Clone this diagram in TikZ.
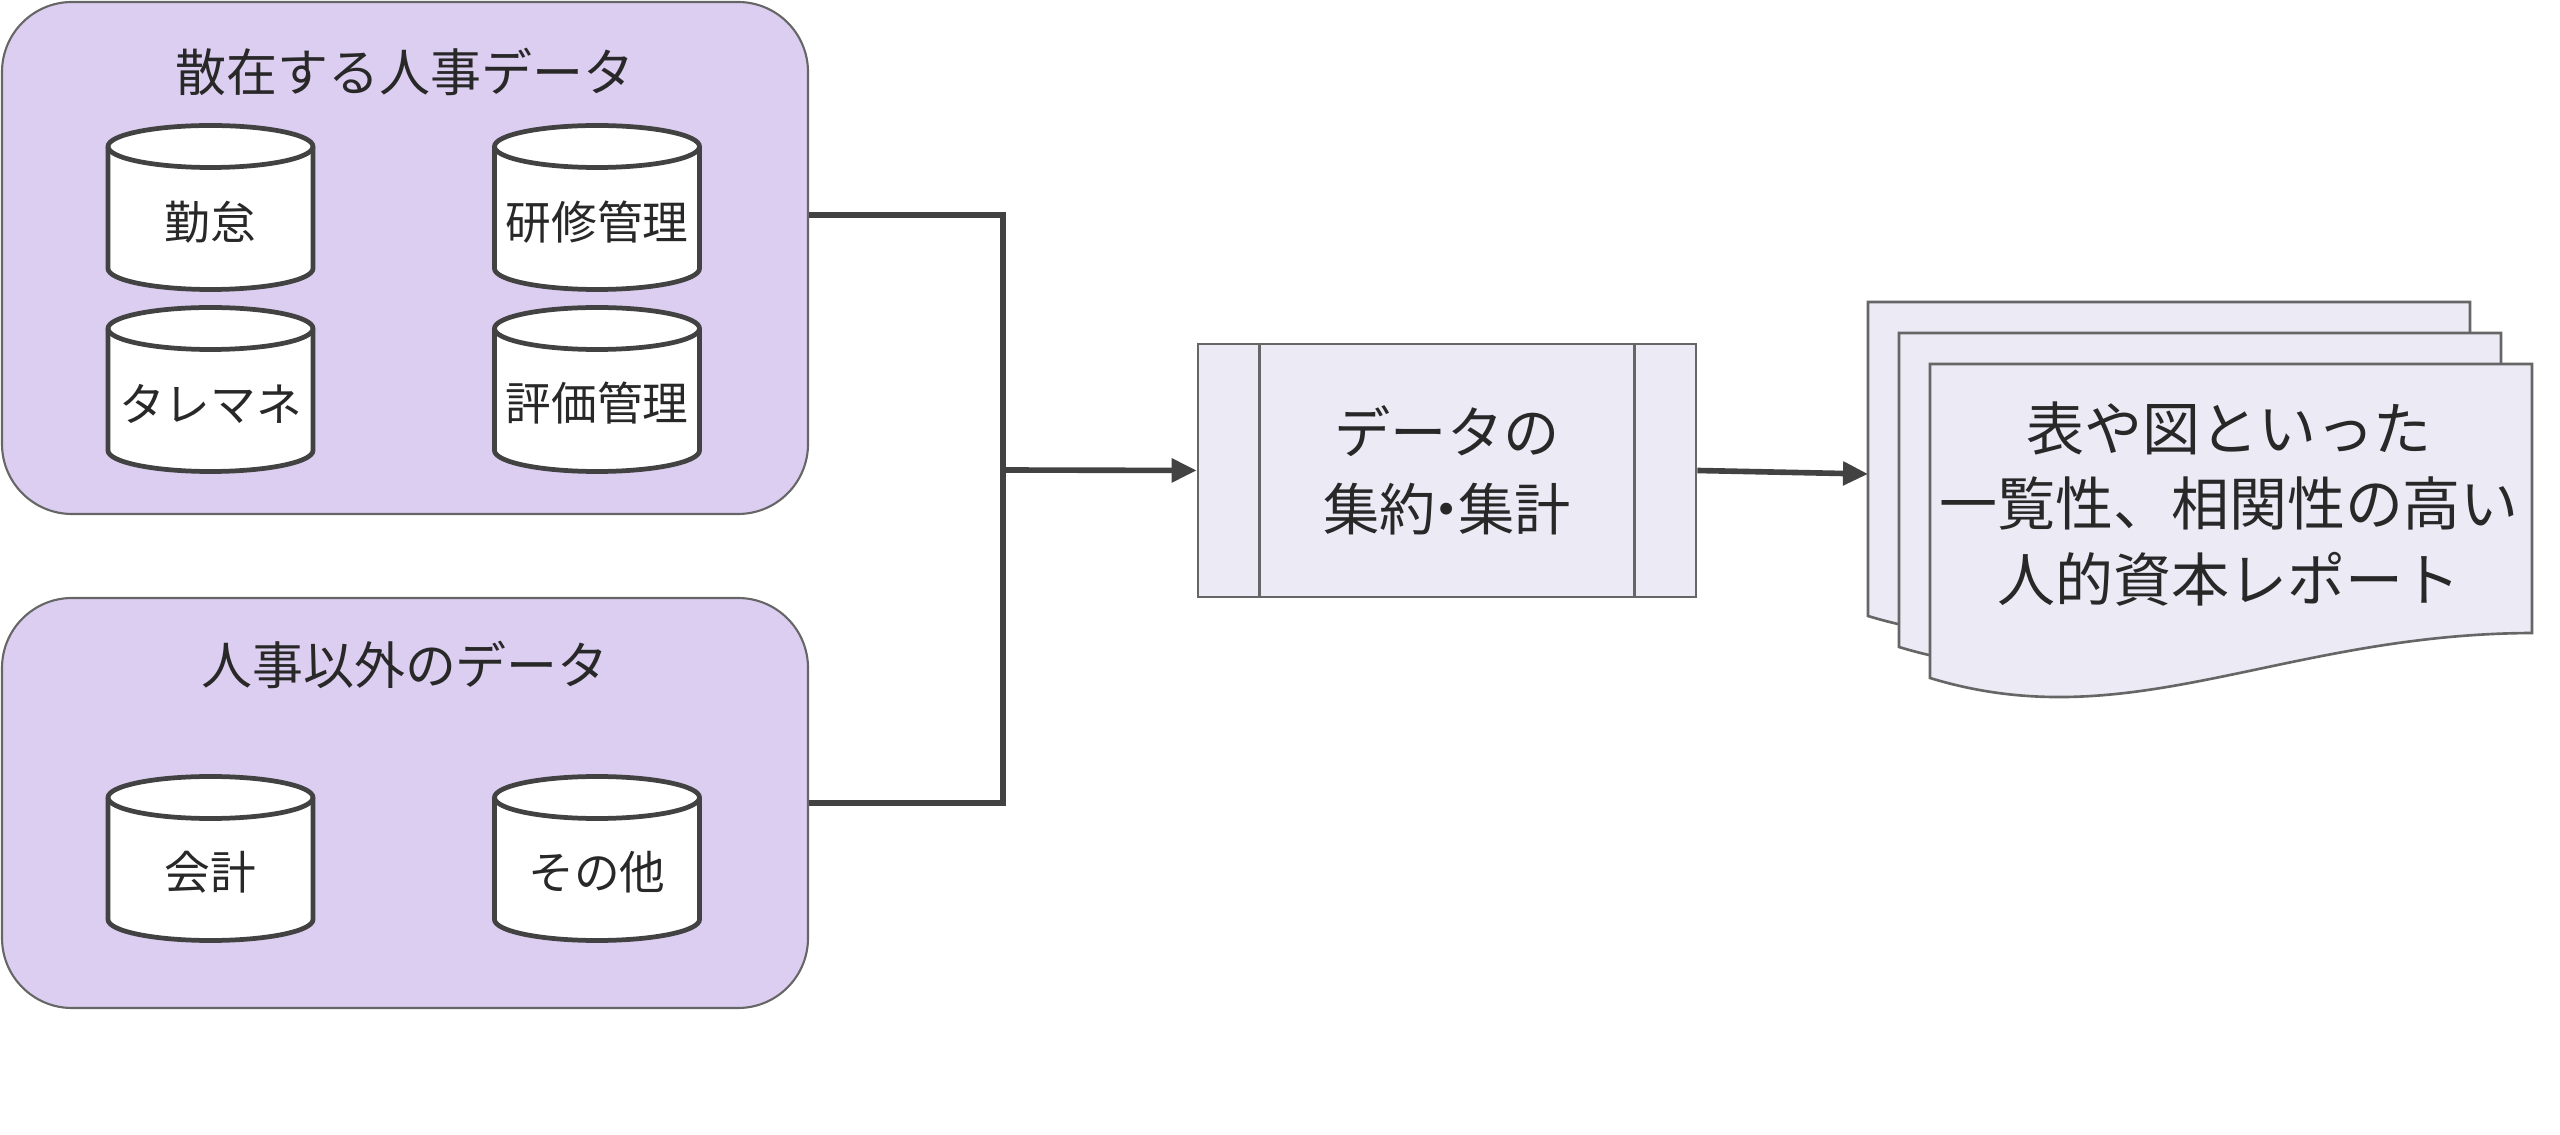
\documentclass[tikz,border=0pt]{standalone}
\usepackage{fontspec}
\setmainfont{Noto Sans CJK JP}
\usetikzlibrary{arrows.meta}

\definecolor{grpfill}{RGB}{220,206,240}
\definecolor{boxfill}{RGB}{236,234,245}
\definecolor{edge}{RGB}{102,102,102}
\definecolor{ink}{RGB}{66,66,66}
\definecolor{txt}{RGB}{40,40,40}

\tikzset{
  pics/dbcyl/.style={code={
    \filldraw[draw=ink,fill=white,line width=1.35pt]
      (-1.025,0.61) -- (-1.025,-0.61)
      arc[start angle=180,end angle=360,x radius=1.025,y radius=0.21]
      -- (1.025,0.61)
      arc[start angle=0,end angle=180,x radius=1.025,y radius=0.21] -- cycle;
    \draw[ink,line width=1.35pt] (-1.025,0.61)
      arc[start angle=180,end angle=360,x radius=1.025,y radius=0.21];
  }}
}

\begin{document}
\begin{tikzpicture}
  [every node/.style={text=txt},
   group/.style={draw=edge,fill=grpfill,line width=0.6pt,rounded corners=0.7cm,minimum width=8.06cm},
   grouptitle/.style={font=\fontsize{14.5}{17}\selectfont},
   dblabel/.style={font=\fontsize{13}{15}\selectfont},
   link/.style={draw=ink,line width=1.6pt},
   tip/.style={-{Triangle[length=0.25cm,width=0.23cm]}},
   doc/.style={draw=edge,fill=boxfill,line width=0.75pt}]
  \useasboundingbox (0,0) rectangle (25.6,11.34);

  % scattered HR data
  \node[group,minimum height=5.12cm] (hr) at (4.05,8.76) {};
  \node[grouptitle] (hrtitle) at (4.05,10.62) {散在する人事データ};
  \pic at (2.105,9.265) {dbcyl};
  \pic at (5.97,9.265) {dbcyl};
  \pic at (2.105,7.445) {dbcyl};
  \pic at (5.97,7.445) {dbcyl};
  \node[dblabel] (kintai) at (2.105,9.115) {勤怠};
  \node[dblabel] (kenshu) at (5.97,9.115) {研修管理};
  \node[dblabel] (talent) at (2.105,7.305) {タレマネ};
  \node[dblabel] (hyoka) at (5.97,7.305) {評価管理};

  % data other than HR
  \node[group,minimum height=4.10cm] (other) at (4.05,3.31) {};
  \node[grouptitle] (othertitle) at (4.05,4.69) {人事以外のデータ};
  \pic at (2.105,2.755) {dbcyl};
  \pic at (5.97,2.755) {dbcyl};
  \node[dblabel] (kaikei) at (2.105,2.615) {会計};
  \node[dblabel] (sonota) at (5.97,2.615) {その他};

  % aggregation
  \node[doc,minimum width=4.98cm,minimum height=2.53cm,align=center,
        font=\fontsize{16}{22}\selectfont] (agg) at (14.47,6.635)
        {データの\\集約{\kern-0.3em・\kern-0.3em}集計};
  \draw[edge,line width=0.75pt] ([xshift=0.63cm]agg.north west) -- ([xshift=0.63cm]agg.south west);
  \draw[edge,line width=0.75pt] ([xshift=-0.63cm]agg.north east) -- ([xshift=-0.63cm]agg.south east);

  % report stack
  \foreach \s in {0.62,0.31,0}
    \draw[doc,shift={(-\s,\s)}] (19.30,7.70) -- (25.32,7.70) -- (25.32,5.01)
      .. controls (22.8,5.0) and (21.3,3.95) .. (19.30,4.56) -- cycle;
  \node[align=center,font=\fontsize{16.5}{21.5}\selectfont] (report) at (22.29,6.30)
    {表や図といった\\一覧性、相関性の高い\\人的資本レポート};

  \coordinate (join) at (10.03,6.64);
  \coordinate (docin) at (18.68,6.60);
  \draw[link] ([yshift=0.43cm]hr.east) -| (join);
  \draw[link] (other.east) -| (join);
  \draw[link,tip] (join) -- (agg.west);
  \draw[link,tip] (agg.east) -- (docin);

\end{tikzpicture}
\end{document}
